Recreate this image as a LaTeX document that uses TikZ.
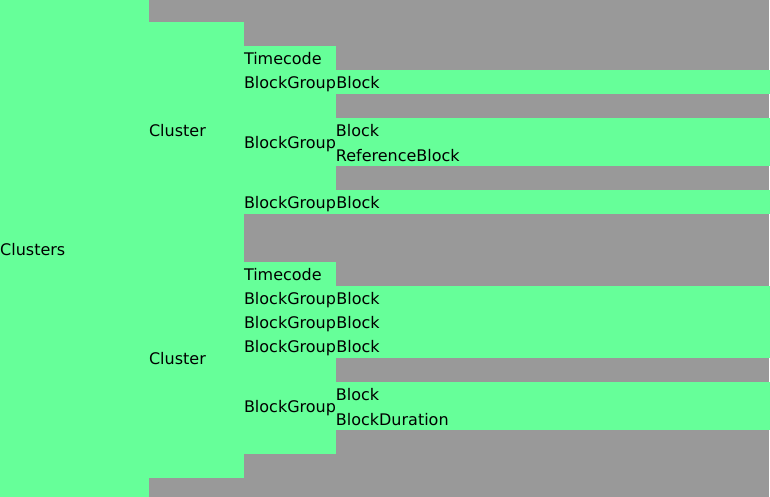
\documentclass[tikz,border=0pt]{standalone}
\usepackage{fontspec}
\setmainfont{DejaVu Sans}
\usetikzlibrary{positioning}
\definecolor{elemgreen}{HTML}{66FF99}
\definecolor{bggray}{HTML}{999999}

\begin{document}
\begin{tikzpicture}[
    x=1pt, y=-1pt,
    every node/.style={font=\fontsize{16}{19}\selectfont},
    element/.style={rectangle, fill=elemgreen, inner sep=0pt, anchor=north west, align=left, text height=13.5pt, text depth=0pt},
    level1/.style={element, text width=149pt},
    level2/.style={element, text width=95pt},
    level3/.style={element, text width=92pt, minimum height=24pt},
    level4/.style={element, text width=434pt, minimum height=24pt}
]

    % Fondo
    \fill[bggray] (0,0) rectangle (770,497);

    % Nivel superior
    \node (clusters) [level1, minimum height=497pt] at (0,0) {Clusters};

    % Primer cluster
    \node (cluster1) [level2, minimum height=216pt] at (149,22) {Cluster};
    \node (tc1) [level3] at (244,46) {Timecode};
    \node (bg1) [level3] at (244,70) {BlockGroup};
    \node (blk1) [level4] at (bg1.north east) {Block};
    \node (bg2) [level3, minimum height=96pt] at (244,94) {BlockGroup};
    \node (blk2) [level4] at (336,118) {Block};
    \node (ref2) [level4, below=0pt of blk2] {ReferenceBlock};
    \node (bg3) [level3] at (244,190) {BlockGroup};
    \node (blk3) [level4] at (bg3.north east) {Block};

    % Segundo cluster
    \node (cluster2) [level2, minimum height=240pt] at (149,238) {Cluster};
    \node (tc2) [level3] at (244,262) {Timecode};
    \node (bg4) [level3] at (244,286) {BlockGroup};
    \node (blk4) [level4] at (bg4.north east) {Block};
    \node (bg5) [level3] at (244,310) {BlockGroup};
    \node (blk5) [level4] at (bg5.north east) {Block};
    \node (bg6) [level3] at (244,334) {BlockGroup};
    \node (blk6) [level4] at (bg6.north east) {Block};
    \node (bg7) [level3, minimum height=96pt] at (244,358) {BlockGroup};
    \node (blk7) [level4] at (336,382) {Block};
    \node (dur7) [level4, below=0pt of blk7] {BlockDuration};

\end{tikzpicture}
\end{document}
